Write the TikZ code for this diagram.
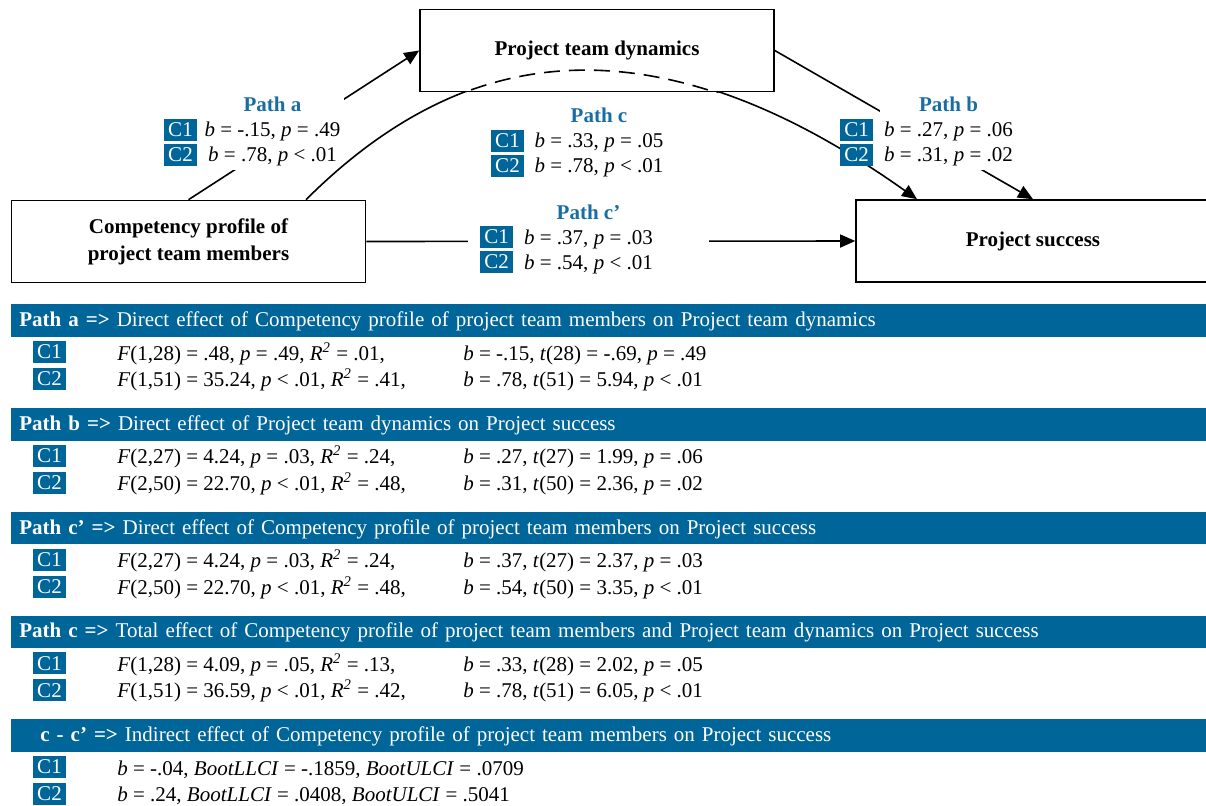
\documentclass[tikz,border=0pt]{standalone}
\usepackage{fontspec}
\setmainfont{Liberation Serif}
\usetikzlibrary{arrows.meta}
\definecolor{hdblue}{RGB}{0,102,153}
\definecolor{ttblue}{RGB}{24,110,163}
\begin{document}
\begin{tikzpicture}[
  font=\fontsize{10.5pt}{12.5pt}\selectfont,
  varbox/.style={draw,line width=0.8pt,minimum width=177pt,minimum height=41pt,align=center,font=\fontsize{10.5pt}{13.5pt}\selectfont\bfseries},
  conn/.style={line width=0.8pt,-{Triangle[length=7.5pt,width=6.5pt]}},
  pathlbl/.style={fill=white,align=center,inner sep=2pt},
  badge/.style={fill=hdblue,text=white,minimum width=16.5pt,minimum height=11pt,inner sep=0pt},
  hdbar/.style={fill=hdblue,text=white,anchor=north west,text width=590pt,align=left,inner xsep=4pt,inner ysep=0pt,minimum height=16.25pt,text height=7.2pt,text depth=1.2pt},
  stat/.style={anchor=base west,inner sep=0pt}
]
\useasboundingbox (0pt,0pt) rectangle (603pt,-402.5pt);
% model
\node[varbox] (comp) at (94.25pt,-120.75pt) {Competency profile of\\project team members};
\node[varbox] (ptd) at (298.5pt,-25.25pt) {Project team dynamics};
\node[varbox] (ps) at (516.5pt,-120.5pt) {Project success};
\draw[conn] (comp.north) -- (ptd.west);
\draw[conn] (ptd.east) -- (ps.north);
\draw[conn] (comp.east) -- (ps.west);
\node[pathlbl] (la) at (136.25pt,-65.5pt) {\textcolor{ttblue}{\textbf{Path a}}\\\textit{b} = -.15, \textit{p} = .49\\\textit{b} = .78, \textit{p} < .01};
\node[pathlbl] (lb) at (474.25pt,-65.5pt) {\textcolor{ttblue}{\textbf{Path b}}\\\textit{b} = .27, \textit{p} = .06\\\textit{b} = .31, \textit{p} = .02};
\node[pathlbl] (lc) at (299.5pt,-71pt) {\textcolor{ttblue}{\textbf{Path c}}\\\textit{b} = .33, \textit{p} = .05\\\textit{b} = .78, \textit{p} < .01};
\node[pathlbl,minimum width=120.5pt] (lcp) at (294.25pt,-119.5pt) {\textcolor{ttblue}{\textbf{Path c’}}\\\textit{b} = .37, \textit{p} = .03\\\textit{b} = .54, \textit{p} < .01};
% total effect, hidden behind the mediator box
\begin{scope}
\clip ([xshift=-298.5pt]ptd.south) rectangle (603pt,-402.5pt);
\draw[conn] ([xshift=58.75pt]comp.north) .. controls (239.5pt,-13.5pt) and (337pt,-13.5pt) .. ([xshift=-58pt]ps.north);
\end{scope}
\begin{scope}
\clip (ptd.south west) rectangle (ptd.north east);
\draw[line width=0.8pt,dash pattern=on 8pt off 4.5pt] ([xshift=58.75pt]comp.north) .. controls (239.5pt,-13.5pt) and (337pt,-13.5pt) .. ([xshift=-58pt]ps.north);
\end{scope}
\node[badge] (a1) at (90.25pt,-65pt) {C1};
\node[badge] (a2) at (90.25pt,-77.5pt) {C2};
\node[badge] (b1) at (428.25pt,-65pt) {C1};
\node[badge] (b2) at (428.25pt,-77.5pt) {C2};
\node[badge] (c1) at (253.75pt,-70.25pt) {C1};
\node[badge] (c2) at (253.75pt,-82.75pt) {C2};
\node[badge] (cp1) at (248.25pt,-118.5pt) {C1};
\node[badge] (cp2) at (248.25pt,-131pt) {C2};
% results
\node[hdbar] (hda) at (5.5pt,-152pt) {\textbf{Path a =>} Direct effect of Competency profile of project team members on Project team dynamics};
\node[badge] (ta1) at (24.75pt,-176pt) {C1};
\node[badge] (ta2) at (24.75pt,-189.5pt) {C2};
\node[stat] (fa1) at (58.5pt,-180pt) {\textit{F}(1,28) = .48, \textit{p} = .49, \textit{R}\textsuperscript{\textit{2}} = .01,};
\node[stat] (fa2) at (58.5pt,-193.25pt) {\textit{F}(1,51) = 35.24, \textit{p} < .01, \textit{R}\textsuperscript{\textit{2}} = .41,};
\node[stat] (ba1) at (231.5pt,-180pt) {\textit{b} = -.15, \textit{t}(28) = -.69, \textit{p} = .49};
\node[stat] (ba2) at (231.5pt,-193.25pt) {\textit{b} = .78, \textit{t}(51) = 5.94, \textit{p} < .01};

\node[hdbar] (hdb) at (5.5pt,-203.875pt) {\textbf{Path b =>} Direct effect of Project team dynamics on Project success};
\node[badge] (tb1) at (24.75pt,-227.875pt) {C1};
\node[badge] (tb2) at (24.75pt,-241.375pt) {C2};
\node[stat] (fb1) at (58.5pt,-231.875pt) {\textit{F}(2,27) = 4.24, \textit{p} = .03, \textit{R}\textsuperscript{\textit{2}} = .24,};
\node[stat] (fb2) at (58.5pt,-245.125pt) {\textit{F}(2,50) = 22.70, \textit{p} < .01, \textit{R}\textsuperscript{\textit{2}} = .48,};
\node[stat] (bb1) at (231.5pt,-231.875pt) {\textit{b} = .27, \textit{t}(27) = 1.99, \textit{p} = .06};
\node[stat] (bb2) at (231.5pt,-245.125pt) {\textit{b} = .31, \textit{t}(50) = 2.36, \textit{p} = .02};

\node[hdbar] (hdcp) at (5.5pt,-255.75pt) {\textbf{Path c’ =>} Direct effect of Competency profile of project team members on Project success};
\node[badge] (tcp1) at (24.75pt,-279.75pt) {C1};
\node[badge] (tcp2) at (24.75pt,-293.25pt) {C2};
\node[stat] (fcp1) at (58.5pt,-283.75pt) {\textit{F}(2,27) = 4.24, \textit{p} = .03, \textit{R}\textsuperscript{\textit{2}} = .24,};
\node[stat] (fcp2) at (58.5pt,-297pt) {\textit{F}(2,50) = 22.70, \textit{p} < .01, \textit{R}\textsuperscript{\textit{2}} = .48,};
\node[stat] (bcp1) at (231.5pt,-283.75pt) {\textit{b} = .37, \textit{t}(27) = 2.37, \textit{p} = .03};
\node[stat] (bcp2) at (231.5pt,-297pt) {\textit{b} = .54, \textit{t}(50) = 3.35, \textit{p} < .01};

\node[hdbar] (hdc) at (5.5pt,-307.625pt) {\textbf{Path c =>} Total effect of Competency profile of project team members and Project team dynamics on Project success};
\node[badge] (tc1) at (24.75pt,-331.625pt) {C1};
\node[badge] (tc2) at (24.75pt,-345.125pt) {C2};
\node[stat] (fc1) at (58.5pt,-335.625pt) {\textit{F}(1,28) = 4.09, \textit{p} = .05, \textit{R}\textsuperscript{\textit{2}} = .13,};
\node[stat] (fc2) at (58.5pt,-348.875pt) {\textit{F}(1,51) = 36.59, \textit{p} < .01, \textit{R}\textsuperscript{\textit{2}} = .42,};
\node[stat] (bc1) at (231.5pt,-335.625pt) {\textit{b} = .33, \textit{t}(28) = 2.02, \textit{p} = .05};
\node[stat] (bc2) at (231.5pt,-348.875pt) {\textit{b} = .78, \textit{t}(51) = 6.05, \textit{p} < .01};

\node[hdbar] (hdi) at (5.5pt,-359.5pt) {\hspace*{10.5pt}\textbf{c - c’ =>} Indirect effect of Competency profile of project team members on Project success};
\node[badge] (ti1) at (24.75pt,-383.5pt) {C1};
\node[badge] (ti2) at (24.75pt,-397pt) {C2};
\node[stat] (fi1) at (58.5pt,-387.5pt) {\textit{b} = -.04, \textit{BootLLCI} = -.1859, \textit{BootULCI} = .0709};
\node[stat] (fi2) at (58.5pt,-400.75pt) {\textit{b} = .24, \textit{BootLLCI} = .0408, \textit{BootULCI} = .5041};
\end{tikzpicture}
\end{document}
